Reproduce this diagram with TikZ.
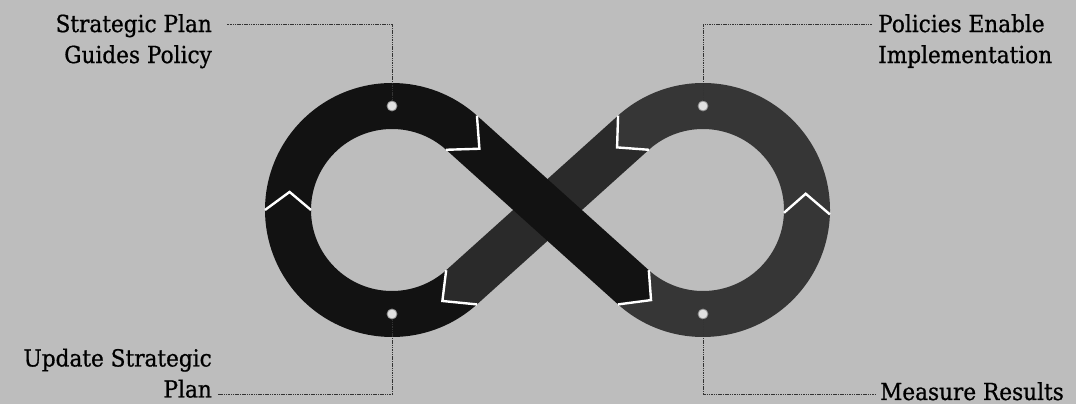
\documentclass[tikz,border=0pt]{standalone}
\usepackage{fontspec}
\setmainfont{DejaVu Serif}[FakeStretch=0.92, FakeBold=0.8]
\usetikzlibrary{calc}

\definecolor{paper}{HTML}{BDBDBD}
\definecolor{segdark}{HTML}{121212}
\definecolor{segmid}{HTML}{363636}
\definecolor{segband}{HTML}{2A2A2A}

\tikzset{
  leader/.style={black!80, line width=0.9pt, dash pattern=on 1.5pt off 0.8pt},
  dot/.style={circle, fill=white!88!black, draw=black!45, line width=0.8pt, minimum size=10pt, inner sep=0pt},
  lbl/.style={font=\fontsize{23.5}{31}\selectfont, inner sep=0pt},
  sep/.style={white, line width=2.4pt, line join=miter},
}

\begin{document}
\begin{tikzpicture}[x=1pt, y=1pt]
  % Paper and bounds
  \fill[paper] (0,0) rectangle (1076,404);
  \useasboundingbox (0,0) rectangle (1076,404);

  % Loop centres and crossing angle
  \coordinate (L) at (392,194);
  \coordinate (R) at (703,194);
  \pgfmathsetmacro\al{asin(104/155.5)}

  % Arrow tips between segments
  \coordinate (tA) at ($(L)+(90-\al:104)+(-\al:24)$);
  \coordinate (tB) at ($(R)+(282-\al:104)$);
  \coordinate (tC) at ($(R)+(9:104)$);
  \coordinate (tD) at ($(R)+(90+\al:104)+(180+\al:22)$);
  \coordinate (tE) at ($(L)+(257+\al:104)$);
  \coordinate (tF) at ($(L)+(170:104)$);

  % Segments
  \fill[segdark] ($(L)+(180:127)$) arc[start angle=180, end angle=90-\al, radius=127pt]
    -- (tA) -- ($(L)+(90-\al:81)$) arc[start angle=90-\al, end angle=180, radius=81pt] -- (tF) -- cycle;
  \fill[segmid] ($(R)+(270-\al:127)$) arc[start angle=270-\al, end angle=358, radius=127pt]
    -- (tC) -- ($(R)+(358:81)$) arc[start angle=358, end angle=270-\al, radius=81pt] -- (tB) -- cycle;
  \fill[segmid] ($(R)+(-2:127)$) arc[start angle=-2, end angle=90+\al, radius=127pt]
    -- (tD) -- ($(R)+(90+\al:81)$) arc[start angle=90+\al, end angle=-2, radius=81pt] -- (tC) -- cycle;
  \fill[segdark] ($(L)+(270+\al:127)$) arc[start angle=270+\al, end angle=180, radius=127pt]
    -- (tF) -- ($(L)+(180:81)$) arc[start angle=180, end angle=270+\al, radius=81pt] -- (tE) -- cycle;
  \fill[segband] ($(R)+(90+\al:127)$) -- ($(L)+(270+\al:81)$) -- (tE)
    -- ($(L)+(270+\al:127)$) -- ($(R)+(90+\al:81)$) -- (tD) -- cycle;
  \fill[segdark] ($(L)+(90-\al:127)$) -- ($(R)+(270-\al:81)$) -- (tB)
    -- ($(R)+(270-\al:127)$) -- ($(L)+(90-\al:81)$) -- (tA) -- cycle;

  % Chevron gaps
  \draw[sep] ($(L)+(180:127)$) -- (tF) -- ($(L)+(180:81)$);
  \draw[sep] ($(L)+(90-\al:127)$) -- (tA) -- ($(L)+(90-\al:81)$);
  \draw[sep] ($(R)+(270-\al:81)$) -- (tB) -- ($(R)+(270-\al:127)$);
  \draw[sep] ($(R)+(358:127)$) -- (tC) -- ($(R)+(358:81)$);
  \draw[sep] ($(R)+(90+\al:127)$) -- (tD) -- ($(R)+(90+\al:81)$);
  \draw[sep] ($(L)+(270+\al:81)$) -- (tE) -- ($(L)+(270+\al:127)$);

  % Labels
  \node[lbl, anchor=north east, align=right] (plan) at (212,390) {Strategic Plan\\Guides Policy};
  \node[lbl, anchor=north west, align=left] (policy) at (878,390) {Policies Enable\\Implementation};
  \node[lbl, anchor=south east, align=right] (update) at (212,6) {Update Strategic\\Plan};
  \node[lbl, anchor=base west] (measure) at (880,4) {Measure Results};

  % Markers and leaders
  \node[dot] (dplan) at ($(L)+(90:104)$) {};
  \node[dot] (dpolicy) at ($(R)+(90:104)$) {};
  \node[dot] (dupdate) at ($(L)+(270:104)$) {};
  \node[dot] (dmeasure) at ($(R)+(270:104)$) {};
  \coordinate (eplan) at (227,380);
  \coordinate (epolicy) at (872,380);
  \coordinate (eupdate) at (218,10);
  \coordinate (emeasure) at (876,10);
  \draw[leader] (dplan) |- (eplan);
  \draw[leader] (dpolicy) |- (epolicy);
  \draw[leader] (dupdate) |- (eupdate);
  \draw[leader] (dmeasure) |- (emeasure);
\end{tikzpicture}
\end{document}
